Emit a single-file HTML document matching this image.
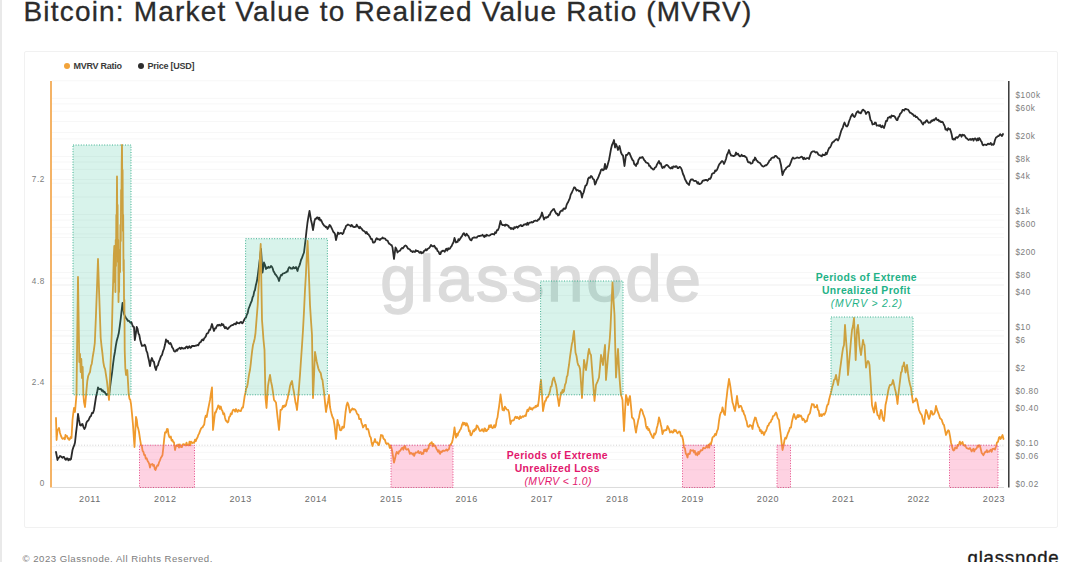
<!DOCTYPE html>
<html lang="en"><head><meta charset="utf-8"><title>Bitcoin: Market Value to Realized Value Ratio (MVRV)</title>
<style>
html,body{margin:0;padding:0;background:#fff;}
body{width:1080px;height:562px;overflow:hidden;position:relative;font-family:"Liberation Sans",sans-serif;}
.edge-l{position:absolute;left:0;top:0;width:1.6px;height:562px;background:#e9e9e9;}
.edge-r{position:absolute;left:1078px;top:0;width:2px;height:562px;background:#f1f1f1;}
h1{position:absolute;left:23.5px;top:-4.4px;margin:0;font-weight:400;font-size:28px;line-height:32px;color:#2b2b2b;white-space:nowrap;letter-spacing:1.18px;-webkit-text-stroke:0.3px #2b2b2b;}
.card{position:absolute;left:24px;top:51px;width:1034px;height:477px;border:1.5px solid #f1f1f1;border-radius:2px;box-sizing:border-box;background:#fff;}
.legend{position:absolute;left:0;top:0;font-size:9px;font-weight:700;color:#3a3a3a;white-space:nowrap;letter-spacing:-0.25px;}
.legend span{position:absolute;top:61px;line-height:10px;}
.legend i{position:absolute;top:63.1px;width:6px;height:6px;border-radius:50%;}
svg{position:absolute;left:0;top:0;}
.foot{position:absolute;left:22.5px;top:552.5px;font-size:9.6px;line-height:12px;color:#7d7d7d;letter-spacing:0.5px;white-space:nowrap;}
.logo{position:absolute;right:20.5px;top:546.5px;font-size:18.6px;line-height:22px;color:#1c1c1c;letter-spacing:0.8px;white-space:nowrap;-webkit-text-stroke:0.35px #1c1c1c;}
</style></head>
<body>
<div class="edge-l"></div>
<h1>Bitcoin: Market Value to Realized Value Ratio (MVRV)</h1>
<div class="card"></div>
<div class="legend"><i style="left:64px;background:#f2a33a"></i><span style="left:73.5px">MVRV Ratio</span><i style="left:138px;background:#2d2d2d"></i><span style="left:147.5px">Price [USD]</span></div>
<svg width="1080" height="562" viewBox="0 0 1080 562" font-family="Liberation Sans, sans-serif">
<g stroke="#f7f7f7" stroke-width="1"><line x1="52" x2="1004" y1="487.3" y2="487.3"/><line x1="52" x2="1004" y1="469.8" y2="469.8"/><line x1="52" x2="1004" y1="459.6" y2="459.6"/><line x1="52" x2="1004" y1="452.3" y2="452.3"/><line x1="52" x2="1004" y1="446.7" y2="446.7"/><line x1="52" x2="1004" y1="429.2" y2="429.2"/><line x1="52" x2="1004" y1="411.8" y2="411.8"/><line x1="52" x2="1004" y1="401.5" y2="401.5"/><line x1="52" x2="1004" y1="394.3" y2="394.3"/><line x1="52" x2="1004" y1="388.7" y2="388.7"/><line x1="52" x2="1004" y1="371.2" y2="371.2"/><line x1="52" x2="1004" y1="353.7" y2="353.7"/><line x1="52" x2="1004" y1="343.5" y2="343.5"/><line x1="52" x2="1004" y1="336.2" y2="336.2"/><line x1="52" x2="1004" y1="330.6" y2="330.6"/><line x1="52" x2="1004" y1="313.1" y2="313.1"/><line x1="52" x2="1004" y1="295.6" y2="295.6"/><line x1="52" x2="1004" y1="285.4" y2="285.4"/><line x1="52" x2="1004" y1="278.1" y2="278.1"/><line x1="52" x2="1004" y1="272.5" y2="272.5"/><line x1="52" x2="1004" y1="255.0" y2="255.0"/><line x1="52" x2="1004" y1="237.5" y2="237.5"/><line x1="52" x2="1004" y1="227.3" y2="227.3"/><line x1="52" x2="1004" y1="220.1" y2="220.1"/><line x1="52" x2="1004" y1="214.4" y2="214.4"/><line x1="52" x2="1004" y1="197.0" y2="197.0"/><line x1="52" x2="1004" y1="179.5" y2="179.5"/><line x1="52" x2="1004" y1="169.3" y2="169.3"/><line x1="52" x2="1004" y1="162.0" y2="162.0"/><line x1="52" x2="1004" y1="156.4" y2="156.4"/><line x1="52" x2="1004" y1="138.9" y2="138.9"/><line x1="52" x2="1004" y1="121.4" y2="121.4"/><line x1="52" x2="1004" y1="111.2" y2="111.2"/><line x1="52" x2="1004" y1="103.9" y2="103.9"/><line x1="52" x2="1004" y1="98.3" y2="98.3"/><line x1="52" x2="1004" y1="80.8" y2="80.8"/><line x1="52" x2="1004" y1="436.8" y2="436.8"/><line x1="52" x2="1004" y1="386.1" y2="386.1"/><line x1="52" x2="1004" y1="335.3" y2="335.3"/><line x1="52" x2="1004" y1="284.6" y2="284.6"/><line x1="52" x2="1004" y1="233.9" y2="233.9"/><line x1="52" x2="1004" y1="183.2" y2="183.2"/><line x1="52" x2="1004" y1="132.4" y2="132.4"/></g>
<line x1="52" x2="1004" y1="487.5" y2="487.5" stroke="#dcdcdc" stroke-width="1"/>
<text x="542" y="301" text-anchor="middle" font-size="65.5" fill="#dbdbdb" stroke="#dbdbdb" stroke-width="1.4" letter-spacing="2.75">glassnode</text>
<line x1="56" x2="1004" y1="445.2" y2="445.2" stroke="#d2d2d2" stroke-width="1" stroke-dasharray="1 1.8"/>
<path d="M56.0,452.0 L57.5,460.0 L58.3,458.0 L59.2,457.4 L60.0,456.0 L60.8,456.2 L61.7,457.3 L62.5,457.8 L63.3,456.9 L64.2,457.2 L65.0,459.0 L65.9,459.9 L66.7,458.4 L67.6,458.3 L68.4,460.3 L69.3,458.9 L70.1,459.9 L71.0,459.0 L72.5,450.0 L73.3,447.4 L74.2,445.4 L75.0,442.5 L76.0,433.2 L77.0,425.0 L78.0,414.0 L79.0,419.9 L80.0,425.0 L80.8,425.6 L81.7,424.4 L82.5,424.0 L83.5,427.1 L84.5,429.0 L85.5,426.8 L86.5,422.5 L87.5,421.0 L88.4,420.4 L89.2,418.7 L90.1,416.7 L91.0,416.0 L92.0,412.8 L93.0,413.0 L94.0,410.0 L95.0,403.5 L96.0,397.0 L97.0,392.8 L98.0,387.5 L99.0,389.0 L100.0,389.1 L101.0,389.0 L101.8,390.8 L102.6,390.1 L103.4,391.9 L104.2,391.7 L105.0,392.5 L105.8,394.3 L106.6,394.9 L107.4,393.6 L108.2,394.4 L109.0,396.0 L110.0,387.6 L111.0,380.0 L112.0,373.1 L113.0,364.6 L114.0,357.0 L114.9,352.0 L115.8,345.8 L116.7,341.0 L117.8,337.0 L118.8,333.0 L119.8,325.8 L120.7,319.0 L121.6,310.8 L122.5,303.0 L124.0,314.0 L125.0,316.2 L126.0,318.0 L126.9,319.1 L127.8,320.9 L128.7,320.7 L129.6,321.6 L130.4,322.7 L131.3,322.0 L132.2,324.6 L133.1,326.6 L134.0,327.0 L134.8,340.0 L135.8,333.8 L136.7,327.0 L137.6,328.8 L138.4,333.3 L139.3,335.0 L140.2,339.9 L141.1,343.4 L142.0,346.0 L142.9,345.7 L143.8,345.7 L144.7,344.7 L145.6,346.6 L146.4,350.9 L147.3,352.7 L148.2,357.3 L149.1,361.0 L150.0,366.0 L150.9,360.9 L151.9,358.0 L152.9,360.9 L154.0,362.0 L155.0,367.3 L156.0,370.0 L156.9,366.3 L157.9,365.4 L158.8,362.0 L159.9,359.4 L160.9,356.4 L162.0,355.0 L163.0,351.3 L164.0,348.7 L165.0,344.8 L166.0,339.5 L166.9,341.6 L167.8,340.6 L168.7,343.0 L169.6,343.9 L170.4,343.0 L171.3,344.7 L172.2,347.4 L173.1,348.5 L174.0,351.0 L174.8,351.6 L175.6,351.4 L176.4,349.8 L177.2,350.7 L178.0,349.0 L178.9,348.5 L179.8,347.8 L180.7,349.1 L181.5,347.6 L182.4,348.0 L183.3,348.7 L184.2,348.2 L185.1,348.4 L186.0,347.0 L186.9,346.4 L187.8,348.2 L188.7,347.0 L189.5,346.3 L190.3,347.8 L191.1,347.5 L191.9,346.0 L192.7,346.0 L193.5,346.0 L194.3,346.1 L195.1,345.8 L195.9,345.5 L196.7,345.5 L197.5,345.0 L198.3,345.3 L199.2,343.4 L200.0,342.3 L200.8,342.2 L201.7,340.2 L202.5,339.5 L203.3,340.4 L204.2,338.4 L205.0,337.5 L205.8,336.4 L206.7,333.7 L207.5,333.5 L208.3,332.7 L209.2,330.0 L210.0,330.0 L211.0,327.3 L212.0,324.0 L213.0,327.8 L214.0,331.0 L214.9,328.4 L215.8,328.3 L216.6,326.4 L217.5,325.0 L218.3,325.5 L219.2,324.6 L220.0,325.5 L220.8,325.6 L221.7,323.8 L222.5,325.0 L223.3,324.5 L224.2,326.8 L225.0,328.2 L225.8,327.0 L226.7,328.2 L227.5,329.0 L228.3,328.6 L229.2,327.2 L230.0,326.6 L230.8,325.8 L231.7,325.3 L232.5,325.0 L233.3,324.9 L234.2,323.8 L235.0,323.7 L235.8,324.4 L236.7,322.1 L237.5,323.0 L238.4,323.1 L239.3,323.4 L240.2,322.3 L241.2,321.9 L242.1,323.4 L243.0,322.5 L244.0,320.2 L245.0,318.4 L246.0,317.5 L246.8,314.8 L247.7,313.0 L248.5,309.0 L249.3,307.0 L250.2,304.6 L251.0,302.5 L251.8,300.9 L252.6,297.3 L253.4,295.9 L254.2,291.6 L255.0,290.0 L255.8,285.4 L256.7,282.1 L257.5,277.5 L258.3,271.4 L259.2,264.1 L260.0,257.5 L261.0,249.0 L262.5,272.5 L264.0,262.5 L265.0,265.0 L266.0,269.0 L266.8,267.5 L267.7,268.1 L268.5,266.7 L269.3,267.8 L270.2,267.4 L271.0,266.0 L271.8,266.7 L272.7,268.4 L273.5,271.3 L274.3,272.4 L275.2,274.3 L276.0,275.0 L277.0,276.6 L278.0,278.0 L279.0,281.0 L280.0,277.5 L281.0,275.0 L281.8,275.3 L282.7,273.6 L283.5,273.4 L284.3,273.1 L285.2,272.7 L286.0,272.5 L286.8,271.3 L287.6,271.6 L288.4,268.6 L289.2,267.2 L290.0,267.5 L290.9,268.6 L291.7,268.3 L292.6,268.6 L293.4,267.0 L294.3,268.3 L295.1,268.2 L296.0,267.0 L297.5,271.0 L298.4,267.5 L299.2,266.1 L300.1,263.6 L301.0,260.0 L302.0,257.9 L303.0,255.0 L304.0,252.5 L305.5,240.0 L306.5,230.9 L307.5,222.5 L308.5,216.3 L309.5,211.0 L311.0,220.0 L312.0,224.3 L313.0,230.0 L314.5,221.0 L315.3,218.7 L316.2,218.9 L317.0,217.5 L317.8,217.4 L318.6,219.3 L319.4,217.8 L320.2,220.5 L321.0,220.0 L321.8,221.7 L322.6,223.5 L323.4,224.6 L324.2,225.8 L325.0,226.0 L325.8,227.2 L326.7,226.7 L327.5,229.0 L328.5,227.6 L329.5,225.0 L330.5,225.8 L331.5,227.8 L332.5,230.0 L333.3,231.8 L334.2,232.7 L335.0,234.0 L336.0,240.0 L337.0,236.0 L338.0,232.5 L338.9,233.9 L339.8,233.4 L340.7,233.0 L341.6,233.1 L342.5,234.0 L343.4,232.9 L344.2,229.9 L345.1,228.7 L346.0,226.0 L347.0,225.3 L348.0,224.5 L349.0,225.0 L349.9,225.3 L350.8,226.3 L351.6,224.9 L352.5,226.0 L353.3,226.8 L354.2,227.1 L355.0,226.8 L355.8,226.8 L356.7,224.7 L357.5,226.0 L358.3,227.0 L359.2,228.3 L360.0,226.8 L360.8,228.1 L361.7,228.7 L362.5,230.0 L363.3,230.7 L364.2,231.1 L365.0,231.9 L365.8,233.4 L366.7,232.0 L367.5,234.0 L368.4,234.1 L369.2,235.5 L370.1,236.8 L371.0,239.0 L372.0,239.0 L373.0,242.6 L374.0,242.5 L375.0,241.7 L376.0,239.0 L376.8,238.1 L377.6,239.4 L378.4,239.1 L379.2,239.3 L380.0,240.0 L380.8,238.8 L381.7,238.7 L382.5,237.5 L383.4,238.4 L384.2,238.4 L385.1,238.6 L386.0,240.0 L386.8,240.4 L387.6,240.6 L388.4,242.5 L389.2,243.8 L390.0,244.0 L390.8,244.9 L391.7,245.2 L392.5,247.5 L394.0,259.0 L395.5,247.5 L396.5,249.2 L397.5,252.5 L398.4,251.3 L399.2,251.0 L400.1,250.6 L401.0,249.0 L401.9,248.0 L402.8,248.4 L403.7,247.2 L404.6,246.0 L405.5,245.5 L406.4,246.0 L407.2,247.2 L408.1,248.7 L409.0,249.0 L409.9,249.5 L410.8,251.0 L411.6,251.1 L412.5,252.0 L413.3,251.2 L414.2,251.8 L415.0,252.0 L415.8,250.2 L416.7,251.0 L417.5,251.0 L418.3,251.1 L419.2,252.5 L420.0,252.9 L420.8,251.7 L421.7,253.3 L422.5,252.5 L423.3,252.7 L424.2,250.7 L425.0,250.7 L425.8,249.2 L426.7,250.4 L427.5,249.0 L428.4,248.4 L429.2,248.0 L430.1,246.8 L431.0,245.0 L431.8,245.8 L432.6,246.4 L433.4,246.4 L434.2,245.6 L435.0,247.0 L435.8,248.6 L436.7,248.4 L437.5,251.0 L438.5,251.6 L439.5,254.0 L440.4,254.1 L441.3,251.6 L442.2,251.1 L443.1,250.6 L444.0,251.0 L444.8,251.7 L445.7,249.5 L446.5,248.8 L447.3,250.6 L448.2,248.3 L449.0,249.0 L449.9,248.6 L450.8,247.0 L451.6,246.1 L452.5,244.0 L453.5,242.2 L454.5,238.0 L456.0,242.5 L456.8,242.0 L457.6,241.9 L458.4,239.2 L459.2,240.4 L460.0,239.0 L461.0,237.4 L462.0,236.2 L463.0,234.0 L463.9,233.2 L464.8,235.0 L465.7,235.7 L466.6,233.7 L467.5,235.0 L468.5,236.2 L469.5,238.5 L470.5,240.0 L471.4,240.4 L472.3,238.3 L473.2,237.7 L474.1,237.3 L475.0,237.5 L475.8,237.6 L476.7,237.7 L477.5,236.5 L478.3,236.2 L479.2,236.0 L480.0,236.0 L480.8,235.6 L481.7,235.7 L482.5,234.7 L483.3,235.8 L484.2,237.0 L485.0,235.4 L485.8,236.3 L486.7,234.7 L487.5,235.5 L488.3,235.7 L489.2,235.7 L490.0,235.2 L490.8,234.5 L491.7,234.2 L492.5,234.0 L493.4,234.1 L494.2,234.5 L495.1,232.3 L496.0,233.0 L497.0,230.1 L498.0,230.0 L499.0,227.5 L500.5,221.0 L501.5,224.1 L502.5,225.0 L503.3,225.1 L504.2,225.0 L505.0,225.8 L505.8,224.5 L506.7,224.8 L507.5,225.5 L508.4,225.6 L509.2,227.5 L510.1,227.6 L511.0,229.0 L511.8,228.0 L512.7,228.8 L513.5,229.2 L514.3,227.1 L515.2,227.9 L516.0,227.0 L516.8,226.6 L517.6,227.7 L518.4,226.8 L519.2,225.9 L520.1,225.6 L520.9,225.0 L521.7,226.1 L522.5,226.0 L523.3,225.3 L524.1,224.4 L524.9,224.5 L525.8,224.0 L526.6,224.8 L527.4,222.8 L528.2,224.7 L529.0,223.0 L529.8,222.6 L530.7,222.6 L531.5,221.9 L532.3,222.5 L533.2,222.2 L534.0,221.0 L534.8,220.9 L535.7,220.5 L536.5,220.8 L537.3,220.9 L538.2,219.5 L539.0,219.5 L540.0,217.8 L541.0,216.0 L542.0,212.5 L543.0,215.9 L544.0,219.5 L544.8,218.0 L545.7,217.3 L546.5,217.8 L547.3,217.0 L548.2,216.9 L549.0,215.0 L549.8,214.9 L550.7,212.3 L551.5,211.2 L552.3,210.4 L553.2,209.2 L554.0,209.0 L554.8,210.8 L555.6,212.5 L556.4,213.9 L557.2,213.6 L558.0,215.5 L559.0,214.9 L560.0,212.0 L561.0,211.0 L561.8,210.4 L562.6,210.8 L563.4,208.7 L564.2,208.3 L565.0,209.0 L565.8,208.1 L566.6,204.9 L567.4,203.2 L568.2,202.0 L569.0,200.0 L569.8,198.4 L570.7,194.6 L571.5,193.3 L572.3,191.5 L573.2,189.5 L574.0,187.5 L574.9,187.4 L575.8,189.0 L576.6,190.6 L577.5,190.0 L578.4,190.3 L579.2,191.4 L580.1,190.9 L581.0,192.5 L582.0,197.5 L582.8,194.1 L583.7,192.3 L584.5,189.0 L585.4,185.7 L586.3,185.4 L587.2,183.2 L588.1,178.8 L589.0,177.5 L590.0,177.9 L591.0,176.0 L592.0,176.8 L593.0,179.0 L594.0,179.5 L595.0,184.5 L595.8,183.3 L596.7,180.3 L597.5,179.0 L598.4,177.2 L599.2,174.9 L600.1,173.0 L601.0,170.0 L602.0,169.2 L603.0,170.3 L604.0,169.5 L605.0,164.0 L606.0,169.0 L607.0,167.2 L608.0,163.4 L609.0,160.0 L610.0,154.6 L611.0,149.0 L612.0,145.0 L613.0,143.0 L614.0,140.0 L615.0,147.5 L616.0,144.0 L617.0,146.6 L618.0,150.0 L619.5,146.0 L621.0,152.5 L622.0,154.6 L623.0,155.5 L624.5,166.0 L626.0,155.0 L626.9,155.0 L627.8,154.2 L628.6,152.7 L629.5,153.0 L630.5,155.7 L631.5,158.0 L632.5,160.0 L633.4,160.7 L634.2,164.0 L635.1,164.9 L636.0,166.0 L636.8,163.3 L637.6,163.7 L638.4,160.0 L639.2,158.8 L640.0,157.5 L640.8,157.9 L641.7,157.4 L642.5,157.0 L643.4,158.5 L644.2,160.1 L645.1,161.0 L646.0,162.5 L646.8,162.7 L647.6,163.1 L648.4,163.5 L649.2,165.9 L650.0,166.0 L651.0,167.8 L652.0,168.4 L653.0,169.5 L654.0,169.3 L655.0,167.5 L656.0,167.0 L657.0,164.4 L658.0,162.7 L659.0,161.0 L659.9,163.7 L660.8,163.3 L661.6,166.3 L662.5,168.0 L663.4,166.7 L664.3,167.5 L665.2,165.8 L666.1,165.2 L667.0,165.0 L668.0,165.7 L669.0,167.1 L670.0,168.0 L670.8,168.5 L671.7,167.3 L672.5,168.4 L673.3,166.3 L674.2,166.6 L675.0,167.0 L675.9,166.1 L676.7,166.3 L677.6,168.2 L678.4,168.2 L679.3,166.9 L680.1,167.0 L681.0,168.0 L682.0,170.4 L683.0,174.0 L684.0,176.0 L685.0,179.3 L686.0,181.0 L687.0,183.0 L688.0,183.9 L689.0,185.0 L690.0,181.3 L691.0,179.5 L691.8,179.5 L692.6,179.3 L693.4,180.5 L694.2,180.9 L695.0,181.0 L695.8,180.8 L696.6,181.6 L697.4,183.5 L698.2,182.2 L699.0,184.0 L699.9,184.0 L700.8,183.5 L701.6,182.9 L702.5,181.0 L703.3,180.4 L704.2,180.5 L705.0,180.0 L705.8,180.0 L706.7,180.0 L707.5,180.7 L708.3,179.8 L709.2,178.6 L710.0,179.0 L711.0,177.4 L712.0,174.0 L712.8,173.4 L713.6,173.1 L714.4,172.8 L715.2,170.3 L716.0,171.0 L716.9,170.0 L717.8,167.9 L718.6,165.7 L719.5,164.0 L720.3,163.1 L721.2,161.9 L722.0,161.0 L723.0,161.7 L724.0,164.0 L725.0,161.6 L726.0,159.0 L727.0,154.8 L728.0,153.0 L729.0,150.0 L730.0,153.1 L731.0,155.5 L732.0,155.5 L733.0,156.0 L734.0,156.0 L735.0,155.4 L736.0,152.5 L737.0,154.5 L738.0,153.6 L739.0,155.5 L739.9,156.4 L740.8,156.1 L741.6,154.7 L742.5,156.0 L743.5,156.0 L744.5,156.0 L745.5,157.0 L746.4,157.3 L747.2,159.9 L748.1,162.2 L749.0,162.5 L749.9,162.2 L750.8,163.7 L751.6,163.4 L752.5,163.0 L753.3,160.2 L754.2,160.3 L755.0,157.5 L755.8,158.8 L756.6,160.6 L757.4,161.1 L758.2,162.1 L759.0,162.5 L760.0,163.1 L761.0,164.5 L761.9,165.7 L762.8,166.4 L763.6,166.6 L764.5,166.0 L765.5,165.2 L766.5,165.3 L767.5,164.0 L768.5,162.6 L769.5,160.3 L770.5,160.0 L771.4,158.2 L772.2,157.7 L773.1,157.3 L774.0,157.5 L775.0,155.9 L776.0,156.0 L776.9,156.7 L777.8,158.0 L778.6,158.3 L779.5,159.0 L781.0,165.0 L782.5,175.0 L783.5,172.3 L784.5,170.0 L785.5,169.4 L786.5,167.5 L787.5,167.0 L788.3,166.1 L789.2,166.0 L790.0,164.5 L791.0,161.9 L792.0,159.0 L793.0,157.5 L794.0,158.7 L795.0,158.4 L796.0,158.0 L796.8,157.6 L797.6,157.5 L798.4,157.8 L799.2,157.9 L800.0,157.5 L800.8,157.0 L801.7,156.7 L802.5,157.5 L803.3,159.2 L804.2,157.8 L805.0,159.0 L805.8,158.9 L806.6,158.2 L807.4,158.2 L808.2,158.1 L809.0,159.0 L810.0,155.7 L811.0,153.0 L811.8,151.9 L812.6,151.4 L813.4,151.4 L814.2,151.3 L815.0,152.0 L815.8,152.6 L816.6,152.1 L817.4,152.6 L818.2,154.3 L819.0,155.0 L820.0,155.3 L821.0,156.0 L821.8,156.3 L822.6,154.4 L823.4,155.1 L824.2,154.9 L825.0,155.0 L825.8,152.8 L826.7,154.2 L827.5,152.0 L828.3,149.8 L829.2,147.9 L830.0,147.5 L831.0,145.6 L832.0,143.0 L833.0,142.0 L833.8,141.7 L834.7,140.3 L835.5,140.0 L836.3,139.2 L837.2,139.2 L838.0,140.5 L839.0,138.3 L840.0,135.0 L841.0,131.4 L842.0,129.0 L842.8,127.6 L843.7,124.6 L844.5,122.5 L846.0,126.0 L847.0,126.6 L848.0,125.0 L849.0,121.5 L850.0,119.0 L850.8,116.7 L851.7,115.1 L852.5,114.0 L853.5,116.3 L854.5,117.0 L855.3,115.7 L856.2,113.3 L857.0,112.0 L858.0,111.1 L859.0,112.8 L860.0,112.5 L860.8,113.3 L861.6,111.9 L862.4,110.0 L863.2,109.7 L864.0,110.5 L865.0,111.2 L866.0,114.0 L867.0,112.6 L868.0,111.8 L869.0,112.5 L870.5,120.0 L871.5,121.1 L872.5,124.5 L873.3,124.2 L874.2,124.2 L875.0,122.5 L875.8,122.7 L876.7,125.7 L877.5,125.5 L878.3,125.3 L879.2,126.0 L880.0,125.0 L880.8,126.7 L881.6,127.3 L882.4,125.6 L883.2,126.9 L884.0,128.0 L885.0,124.8 L886.0,121.0 L887.0,121.0 L888.0,117.6 L889.0,117.5 L889.9,116.6 L890.8,117.7 L891.6,115.4 L892.5,116.0 L893.3,116.0 L894.2,116.2 L895.0,117.0 L895.8,118.5 L896.7,120.1 L897.5,120.0 L898.3,117.2 L899.2,116.6 L900.0,114.0 L900.8,113.3 L901.7,112.2 L902.5,110.0 L903.4,109.9 L904.2,110.6 L905.1,108.9 L906.0,109.0 L907.0,109.4 L908.0,109.6 L909.0,111.0 L910.0,112.7 L911.0,113.0 L912.0,113.9 L913.0,114.4 L914.0,116.0 L915.0,115.5 L916.0,117.2 L917.0,117.0 L918.0,118.3 L919.0,119.5 L920.0,120.0 L921.0,121.2 L922.0,123.0 L923.0,124.5 L924.0,122.4 L925.0,122.7 L926.0,121.0 L926.9,120.1 L927.8,121.7 L928.6,122.8 L929.5,122.5 L930.5,122.5 L931.5,120.5 L932.5,121.0 L933.4,119.6 L934.2,120.4 L935.1,119.1 L936.0,118.0 L936.8,119.6 L937.6,120.2 L938.4,119.7 L939.2,121.4 L940.0,121.0 L941.0,122.1 L942.0,121.6 L943.0,122.5 L943.8,124.5 L944.7,126.1 L945.5,129.5 L946.4,129.1 L947.3,130.5 L948.2,128.2 L949.1,129.3 L950.0,129.0 L950.8,131.3 L951.7,134.6 L952.5,139.0 L953.3,139.6 L954.2,138.7 L955.0,139.5 L955.8,137.6 L956.6,137.2 L957.4,137.8 L958.2,136.9 L959.0,136.0 L959.8,134.6 L960.7,135.0 L961.5,136.7 L962.3,134.6 L963.2,135.3 L964.0,135.0 L964.9,135.8 L965.8,137.7 L966.6,138.3 L967.5,139.0 L968.4,140.0 L969.2,139.6 L970.1,138.9 L971.0,140.0 L971.8,139.1 L972.7,138.7 L973.5,140.6 L974.3,138.7 L975.2,138.3 L976.0,139.5 L976.8,140.6 L977.6,138.5 L978.4,140.2 L979.2,138.0 L980.0,139.0 L980.8,140.7 L981.7,141.9 L982.5,144.5 L983.3,145.3 L984.2,144.6 L985.0,144.6 L985.8,144.8 L986.7,145.0 L987.5,144.0 L988.3,143.6 L989.1,144.3 L989.9,143.9 L990.8,143.0 L991.6,144.9 L992.4,144.2 L993.2,144.8 L994.0,144.0 L995.0,140.0 L996.0,137.5 L996.9,137.0 L997.8,136.2 L998.6,136.2 L999.5,135.0 L1000.3,134.2 L1001.2,135.3 L1002.0,136.0 L1003.0,134.0" fill="none" stroke="#2a2a2a" stroke-width="1.8" stroke-linejoin="round" stroke-linecap="round"/>
<path d="M56.0,418.0 L56.6,440.0 L57.5,430.0 L58.2,429.5 L59.0,428.0 L60.0,433.0 L61.0,436.0 L61.8,437.7 L62.5,438.9 L63.2,438.5 L64.0,438.0 L64.8,439.3 L65.5,435.0 L66.2,436.4 L67.0,436.0 L67.8,438.6 L68.5,438.1 L69.2,439.9 L70.0,439.0 L70.8,436.9 L71.5,438.0 L72.5,420.0 L73.2,413.9 L74.0,408.0 L75.0,412.0 L75.8,402.9 L76.5,395.0 L77.3,330.0 L78.0,277.0 L78.8,330.0 L79.3,362.0 L80.0,354.0 L80.7,372.0 L81.3,359.0 L82.0,378.0 L82.7,367.0 L83.3,394.0 L84.0,402.0 L85.0,407.0 L85.8,398.4 L86.5,389.9 L87.3,381.0 L88.2,376.0 L89.1,373.8 L90.0,372.0 L90.9,366.1 L91.8,363.7 L92.7,357.0 L93.8,350.7 L94.8,343.0 L95.9,317.0 L97.0,287.1 L98.0,259.0 L99.3,298.0 L100.7,338.0 L101.6,346.7 L102.4,353.1 L103.3,362.0 L104.2,366.8 L105.1,369.1 L106.0,375.0 L107.0,381.7 L108.0,391.0 L109.0,400.0 L110.0,378.0 L111.0,352.0 L111.9,330.0 L112.6,300.0 L113.2,280.0 L113.8,256.0 L114.3,246.0 L114.7,282.0 L115.0,258.0 L115.4,292.0 L115.7,240.0 L116.0,266.0 L116.3,215.0 L116.6,236.0 L117.0,176.5 L117.3,226.0 L117.6,205.0 L117.9,262.0 L118.2,240.0 L118.5,302.0 L118.8,275.0 L119.1,292.0 L119.4,262.0 L119.8,250.0 L120.1,272.0 L120.4,225.0 L120.8,241.0 L121.1,190.0 L121.4,206.0 L121.7,165.0 L122.0,145.0 L122.3,186.0 L122.6,170.0 L122.9,231.0 L123.2,215.0 L123.5,271.0 L123.8,260.0 L124.1,311.0 L124.4,300.0 L124.7,350.0 L125.3,368.0 L126.0,375.0 L127.3,370.0 L128.7,394.0 L129.5,398.9 L130.2,399.4 L131.0,404.0 L132.0,413.8 L133.0,425.0 L133.8,437.2 L134.5,447.0 L135.2,432.9 L136.0,417.0 L136.8,419.9 L137.5,426.4 L138.2,428.4 L139.0,432.0 L140.0,438.9 L141.0,445.0 L141.8,445.8 L142.6,450.9 L143.4,451.8 L144.2,455.0 L145.0,455.0 L145.8,458.7 L146.7,458.3 L147.5,460.7 L148.3,461.9 L149.2,463.9 L150.0,467.5 L150.8,464.5 L151.7,464.3 L152.5,464.0 L153.2,465.9 L154.0,464.9 L154.8,469.2 L155.5,470.0 L156.4,467.4 L157.2,465.5 L158.1,465.7 L159.0,462.5 L159.9,460.5 L160.8,458.0 L161.6,456.8 L162.5,455.0 L163.3,448.0 L164.2,438.9 L165.0,432.5 L166.0,432.7 L167.0,429.0 L167.8,429.1 L168.5,434.3 L169.2,436.8 L170.0,437.5 L170.8,436.5 L171.6,440.7 L172.4,439.9 L173.2,441.8 L174.0,442.5 L175.0,450.0 L175.8,446.6 L176.7,445.4 L177.5,446.0 L178.2,444.5 L179.0,447.6 L179.8,444.3 L180.5,446.5 L181.2,447.1 L182.0,447.0 L182.8,444.3 L183.5,444.2 L184.2,444.8 L185.0,444.5 L185.8,445.5 L186.5,442.6 L187.2,445.1 L188.0,445.1 L188.8,445.3 L189.5,441.7 L190.2,445.3 L191.0,441.6 L191.8,442.5 L192.5,443.0 L193.3,442.5 L194.2,442.9 L195.0,439.6 L195.8,441.1 L196.7,438.6 L197.5,437.5 L198.3,435.0 L199.2,433.4 L200.0,431.1 L200.8,429.1 L201.7,427.7 L202.5,427.5 L203.3,425.8 L204.2,424.6 L205.0,418.6 L205.8,415.6 L206.7,417.0 L207.5,412.5 L208.3,408.5 L209.2,403.8 L210.0,400.0 L211.0,393.1 L212.0,387.5 L213.0,430.0 L214.0,421.5 L215.0,412.5 L215.8,412.6 L216.6,409.7 L217.4,408.3 L218.2,405.4 L219.0,406.0 L219.9,409.0 L220.8,406.5 L221.6,409.7 L222.5,411.0 L223.3,414.3 L224.2,413.3 L225.0,417.7 L225.8,420.6 L226.7,421.1 L227.5,422.5 L228.3,421.8 L229.2,417.0 L230.0,416.5 L230.8,413.4 L231.7,414.4 L232.5,411.0 L233.4,409.6 L234.2,409.8 L235.1,411.6 L236.0,409.0 L236.8,410.9 L237.6,411.8 L238.4,410.0 L239.2,410.6 L240.0,411.0 L240.8,411.1 L241.5,409.2 L242.2,407.5 L243.0,407.5 L243.8,402.1 L244.7,396.0 L245.5,392.5 L246.2,388.2 L247.0,387.1 L247.8,383.2 L248.5,378.0 L249.2,373.7 L250.0,370.0 L250.8,363.3 L251.5,356.5 L252.2,350.7 L253.0,345.0 L253.8,342.2 L254.7,338.5 L255.5,333.0 L256.6,318.7 L257.7,305.0 L258.4,290.5 L259.2,275.2 L259.9,259.7 L260.7,244.0 L262.0,320.0 L262.8,330.4 L263.5,340.0 L264.5,350.0 L265.5,398.0 L266.5,408.0 L267.2,397.7 L268.0,386.0 L269.0,379.9 L270.0,375.0 L271.0,381.4 L272.0,386.0 L273.0,392.4 L274.0,400.0 L275.0,401.2 L276.0,402.5 L276.8,410.1 L277.5,416.7 L278.2,422.6 L279.0,430.0 L279.8,421.1 L280.5,410.0 L281.3,409.9 L282.1,408.9 L282.9,405.8 L283.6,407.3 L284.4,405.4 L285.2,406.4 L286.0,405.0 L286.8,401.0 L287.6,398.7 L288.4,394.2 L289.2,391.1 L290.0,386.0 L291.0,382.9 L292.0,381.0 L293.0,387.4 L294.0,392.5 L294.8,397.9 L295.5,402.6 L296.2,405.0 L297.0,410.0 L298.0,399.6 L299.0,387.5 L300.0,374.7 L301.0,360.0 L302.0,345.5 L303.0,330.0 L304.0,311.2 L305.0,290.0 L305.9,274.8 L306.7,257.4 L307.6,241.0 L308.4,262.4 L309.2,282.8 L310.0,305.0 L311.0,320.8 L312.0,335.0 L313.0,398.0 L314.0,376.1 L315.0,352.0 L315.8,356.2 L316.7,361.5 L317.5,365.0 L318.3,368.3 L319.2,370.6 L320.0,372.0 L320.8,373.3 L321.7,378.5 L322.5,380.0 L323.2,386.2 L324.0,392.0 L325.0,402.4 L326.0,412.0 L326.8,407.4 L327.5,404.0 L328.2,400.4 L329.0,395.0 L330.0,407.0 L330.8,410.9 L331.7,414.6 L332.5,417.0 L333.5,419.0 L334.5,425.0 L335.2,431.1 L336.0,439.0 L336.8,429.4 L337.5,420.0 L338.3,424.0 L339.2,425.5 L340.0,430.0 L340.8,430.3 L341.6,429.5 L342.4,426.6 L343.2,427.9 L344.0,427.5 L344.8,419.3 L345.5,412.5 L346.5,405.6 L347.5,402.5 L348.3,404.3 L349.2,408.4 L350.0,412.5 L350.8,410.5 L351.6,409.8 L352.4,408.4 L353.2,409.6 L354.0,409.0 L355.0,409.5 L356.0,411.0 L356.8,413.1 L357.6,414.6 L358.4,414.7 L359.2,419.1 L360.0,419.0 L360.8,419.0 L361.5,422.9 L362.2,424.4 L363.0,427.5 L364.0,425.9 L365.0,425.0 L365.8,424.9 L366.6,429.4 L367.4,429.0 L368.2,429.1 L369.0,432.5 L369.9,436.4 L370.8,437.5 L371.6,442.8 L372.5,446.0 L373.3,443.0 L374.2,441.7 L375.0,439.0 L375.8,442.1 L376.6,442.7 L377.4,442.3 L378.2,445.1 L379.0,445.0 L380.0,440.6 L381.0,435.0 L381.8,435.5 L382.6,435.5 L383.4,438.4 L384.2,439.3 L385.0,440.0 L385.8,442.9 L386.6,444.0 L387.4,443.5 L388.2,443.4 L389.0,445.0 L389.8,447.9 L390.5,445.4 L391.2,447.1 L392.0,450.0 L393.0,456.4 L394.0,462.5 L395.0,458.7 L396.0,454.0 L396.8,451.9 L397.6,453.3 L398.4,453.8 L399.2,451.1 L400.0,451.0 L400.8,449.9 L401.7,448.2 L402.5,447.6 L403.3,449.7 L404.2,446.3 L405.0,446.0 L405.8,448.9 L406.6,449.7 L407.4,449.4 L408.2,449.0 L409.0,451.0 L409.9,453.9 L410.8,452.7 L411.6,453.3 L412.5,454.5 L413.3,453.4 L414.2,455.9 L415.0,453.5 L415.8,452.3 L416.7,452.7 L417.5,452.5 L418.3,451.0 L419.2,453.2 L420.0,452.5 L420.8,452.0 L421.7,454.1 L422.5,453.0 L423.3,453.7 L424.2,449.6 L425.0,451.1 L425.8,449.4 L426.7,451.5 L427.5,449.0 L428.4,448.7 L429.2,444.9 L430.1,443.5 L431.0,443.0 L431.8,442.2 L432.6,446.3 L433.4,443.9 L434.2,445.9 L435.0,446.0 L435.8,447.1 L436.5,448.9 L437.2,449.9 L438.0,451.7 L438.8,450.2 L439.5,453.0 L440.2,453.8 L441.0,451.5 L441.8,452.1 L442.5,451.0 L443.2,450.5 L444.0,451.0 L444.8,450.8 L445.7,450.2 L446.5,449.4 L447.3,450.7 L448.2,449.7 L449.0,449.0 L449.8,445.4 L450.5,444.7 L451.2,443.9 L452.0,442.5 L452.8,439.2 L453.7,434.1 L454.5,427.5 L455.2,432.6 L456.0,437.5 L456.8,434.0 L457.6,435.7 L458.4,432.7 L459.2,431.8 L460.0,430.0 L460.8,429.0 L461.5,426.8 L462.2,424.3 L463.0,422.5 L463.8,424.6 L464.5,422.9 L465.2,423.3 L466.0,425.6 L466.8,423.3 L467.5,425.0 L468.2,426.6 L469.0,431.4 L469.8,430.7 L470.5,435.0 L471.2,435.4 L472.0,433.8 L472.8,431.7 L473.5,430.1 L474.2,431.2 L475.0,429.0 L475.8,429.7 L476.7,425.5 L477.5,426.0 L478.3,427.6 L479.2,429.5 L480.0,431.0 L480.8,430.8 L481.5,430.0 L482.2,429.1 L483.0,430.8 L483.8,431.6 L484.5,428.3 L485.2,428.8 L486.0,431.1 L486.8,430.9 L487.5,429.5 L488.4,429.1 L489.2,425.3 L490.1,427.1 L491.0,425.0 L491.8,427.5 L492.6,428.1 L493.4,427.3 L494.2,425.1 L495.0,427.5 L495.8,425.6 L496.7,419.7 L497.5,417.5 L498.2,412.1 L499.0,407.1 L499.8,400.8 L500.5,394.5 L501.5,401.3 L502.5,410.0 L503.2,408.5 L504.0,410.5 L504.8,406.7 L505.5,407.5 L506.4,409.2 L507.2,409.6 L508.1,409.8 L509.0,412.5 L509.8,418.6 L510.5,424.0 L511.4,421.1 L512.2,420.4 L513.1,420.5 L514.0,420.0 L514.9,417.5 L515.8,416.6 L516.6,418.1 L517.5,417.0 L518.4,418.3 L519.2,419.1 L520.1,416.2 L521.0,418.0 L521.8,417.2 L522.6,416.2 L523.4,416.9 L524.2,416.0 L525.0,415.5 L525.8,416.0 L526.6,412.4 L527.4,409.7 L528.2,411.1 L529.0,409.0 L529.8,407.3 L530.7,409.1 L531.5,408.3 L532.3,409.7 L533.2,408.0 L534.0,407.5 L534.8,407.7 L535.6,405.9 L536.4,406.8 L537.2,405.3 L538.0,406.0 L538.8,400.1 L539.5,393.0 L540.2,385.6 L541.0,380.0 L542.0,394.8 L543.0,411.0 L544.0,405.5 L545.0,401.0 L545.8,400.8 L546.7,397.3 L547.5,397.5 L548.3,396.2 L549.2,393.8 L550.0,391.0 L550.8,386.6 L551.6,386.3 L552.4,381.2 L553.2,378.6 L554.0,377.5 L555.0,381.6 L556.0,385.0 L556.8,389.6 L557.5,396.4 L558.2,400.7 L559.0,406.0 L560.0,398.8 L561.0,392.5 L561.8,393.4 L562.5,389.8 L563.2,392.3 L564.0,391.0 L565.0,384.9 L566.0,382.5 L566.8,376.7 L567.5,375.6 L568.2,370.1 L569.0,365.0 L570.0,356.8 L571.0,350.0 L571.8,344.3 L572.5,341.7 L573.2,336.2 L574.0,331.0 L574.8,342.6 L575.5,352.5 L576.5,356.0 L577.5,362.5 L578.3,365.2 L579.2,366.2 L580.0,369.0 L581.0,382.8 L582.0,398.0 L583.0,378.6 L584.0,360.0 L585.0,365.5 L586.0,370.0 L586.8,364.4 L587.5,359.2 L588.2,353.3 L589.0,349.0 L590.0,353.4 L591.0,355.0 L591.9,366.9 L592.8,378.8 L593.6,389.3 L594.5,401.0 L595.2,393.9 L596.0,385.0 L596.8,383.2 L597.5,381.6 L598.2,379.7 L599.0,377.5 L600.0,366.9 L601.0,355.0 L602.0,359.6 L603.0,365.0 L604.0,354.0 L605.0,345.0 L606.0,380.0 L606.8,370.7 L607.5,363.0 L608.2,354.5 L609.0,347.5 L609.8,338.5 L610.5,327.5 L611.5,305.0 L612.5,282.5 L613.5,299.4 L614.5,315.0 L615.2,345.0 L616.0,377.5 L617.0,363.2 L618.0,349.0 L618.8,364.2 L619.5,377.5 L620.2,386.6 L621.0,395.0 L621.8,397.2 L622.5,400.0 L623.2,415.4 L624.0,431.0 L625.0,412.0 L626.0,395.0 L627.0,398.5 L628.0,405.0 L629.0,399.1 L630.0,396.0 L631.0,406.4 L632.0,417.5 L633.0,418.3 L634.0,420.0 L635.0,427.2 L636.0,432.5 L636.8,427.3 L637.5,424.0 L638.2,420.3 L639.0,417.5 L640.0,411.8 L641.0,409.0 L641.8,409.9 L642.5,411.4 L643.2,414.2 L644.0,416.0 L645.0,419.0 L646.0,426.0 L646.8,428.5 L647.5,426.9 L648.2,430.1 L649.0,429.0 L649.9,431.9 L650.8,434.0 L651.6,435.3 L652.5,437.5 L653.4,438.1 L654.2,433.4 L655.1,434.5 L656.0,432.5 L656.8,427.9 L657.5,425.7 L658.2,422.2 L659.0,417.5 L659.9,420.2 L660.8,424.5 L661.6,427.9 L662.5,434.0 L663.2,431.9 L664.0,430.2 L664.8,430.6 L665.5,430.0 L666.5,430.0 L667.5,426.0 L668.3,427.6 L669.2,429.5 L670.0,432.5 L670.8,432.1 L671.7,431.1 L672.5,432.7 L673.3,432.4 L674.2,429.8 L675.0,431.0 L675.8,430.1 L676.7,432.1 L677.5,433.4 L678.3,432.3 L679.2,431.5 L680.0,432.0 L681.0,436.0 L682.0,436.0 L683.0,439.7 L684.0,447.5 L684.9,448.2 L685.8,453.7 L686.6,454.6 L687.5,457.5 L688.2,453.7 L689.0,454.0 L689.8,453.9 L690.5,450.0 L691.4,450.7 L692.2,450.6 L693.1,450.2 L694.0,452.5 L694.8,450.9 L695.7,454.7 L696.5,453.2 L697.3,455.3 L698.2,451.9 L699.0,454.0 L699.9,451.9 L700.8,450.1 L701.6,450.6 L702.5,450.0 L703.3,447.7 L704.2,448.1 L705.0,448.4 L705.8,447.5 L706.7,446.0 L707.5,447.5 L708.4,444.7 L709.2,447.7 L710.1,443.5 L711.0,444.0 L711.8,440.8 L712.5,437.5 L713.4,436.5 L714.2,436.4 L715.1,433.9 L716.0,435.0 L717.0,431.2 L718.0,429.0 L719.0,421.0 L720.0,415.0 L720.8,412.7 L721.7,411.8 L722.5,407.5 L723.3,410.4 L724.2,414.0 L725.0,415.0 L726.0,402.5 L726.8,395.9 L727.5,389.5 L728.2,385.0 L729.0,379.0 L729.8,383.2 L730.5,387.5 L731.5,395.2 L732.5,402.5 L733.3,404.8 L734.2,408.7 L735.0,411.0 L736.0,404.1 L737.0,396.0 L738.0,403.5 L739.0,407.5 L740.0,405.9 L741.0,406.0 L741.8,407.8 L742.5,411.4 L743.2,410.8 L744.0,414.0 L744.9,415.4 L745.8,419.2 L746.6,421.3 L747.5,426.0 L748.3,426.8 L749.2,426.7 L750.0,425.0 L750.8,425.5 L751.7,426.1 L752.5,429.0 L753.3,423.4 L754.2,420.3 L755.0,417.5 L755.8,417.9 L756.7,421.5 L757.5,424.0 L758.3,426.7 L759.2,427.6 L760.0,431.0 L760.8,430.0 L761.6,433.4 L762.4,431.5 L763.2,432.9 L764.0,435.0 L765.0,432.1 L766.0,431.0 L766.8,428.8 L767.6,425.9 L768.4,425.6 L769.2,423.4 L770.0,422.5 L770.8,421.9 L771.5,419.5 L772.2,419.3 L773.0,416.0 L773.8,415.8 L774.5,415.3 L775.2,413.7 L776.0,412.5 L776.8,414.1 L777.5,417.6 L778.2,418.8 L779.0,420.0 L779.8,427.4 L780.5,432.5 L781.5,441.8 L782.5,450.0 L783.5,445.8 L784.5,440.0 L785.3,437.7 L786.2,438.6 L787.0,436.0 L788.0,433.0 L789.0,431.0 L790.0,427.7 L791.0,427.5 L791.8,422.3 L792.5,419.4 L793.2,416.4 L794.0,414.0 L795.0,417.2 L796.0,419.0 L796.8,417.1 L797.5,415.2 L798.2,417.1 L799.0,415.0 L799.9,416.5 L800.8,415.5 L801.6,416.9 L802.5,420.0 L803.4,418.7 L804.2,419.9 L805.1,422.3 L806.0,421.0 L806.8,421.3 L807.6,418.3 L808.4,415.1 L809.2,414.3 L810.0,413.0 L811.0,407.9 L812.0,404.0 L812.8,404.5 L813.7,404.3 L814.5,407.5 L815.3,407.0 L816.2,407.2 L817.0,405.0 L817.8,409.6 L818.7,410.6 L819.5,416.0 L820.2,415.9 L821.0,414.1 L821.8,416.1 L822.5,415.0 L823.4,413.8 L824.2,414.8 L825.1,413.2 L826.0,411.0 L826.8,406.6 L827.5,404.7 L828.2,404.5 L829.0,400.0 L830.0,396.1 L831.0,392.5 L831.8,389.1 L832.5,386.0 L833.2,384.2 L834.0,380.0 L835.0,379.3 L836.0,375.0 L837.0,380.1 L838.0,385.0 L839.0,378.7 L840.0,370.0 L841.0,362.7 L842.0,355.0 L843.0,348.3 L844.0,345.0 L845.0,325.0 L846.0,339.5 L847.0,352.5 L848.0,375.0 L849.0,363.5 L850.0,352.5 L851.0,340.1 L852.0,330.0 L853.0,326.0 L854.0,318.0 L855.0,342.5 L855.7,360.0 L857.0,330.0 L858.0,325.0 L858.8,333.8 L859.5,345.0 L860.2,350.2 L861.0,355.0 L862.0,347.5 L863.0,340.0 L863.8,344.1 L864.5,345.0 L865.2,356.0 L866.0,367.5 L867.0,363.1 L868.0,361.0 L868.8,362.1 L869.5,365.0 L870.5,380.0 L871.2,391.7 L872.0,405.0 L873.0,409.0 L874.0,412.5 L874.8,407.1 L875.5,402.5 L876.5,409.4 L877.5,415.0 L878.5,415.9 L879.5,419.0 L880.2,413.9 L881.0,410.0 L881.8,411.7 L882.5,417.5 L883.2,419.7 L884.0,421.0 L884.8,413.9 L885.5,405.0 L886.5,400.5 L887.5,395.0 L888.2,390.8 L889.0,387.5 L890.0,384.8 L891.0,385.0 L892.0,383.9 L893.0,380.0 L894.0,384.5 L895.0,389.0 L895.8,392.1 L896.7,397.6 L897.5,404.0 L898.5,393.5 L899.5,385.0 L900.2,379.3 L901.0,372.5 L901.8,371.7 L902.5,366.2 L903.2,366.2 L904.0,362.5 L904.8,367.1 L905.5,372.5 L906.2,369.5 L907.0,365.0 L908.0,373.4 L909.0,380.0 L910.0,384.5 L911.0,388.0 L912.0,396.0 L913.0,402.5 L914.0,401.2 L915.0,401.0 L916.0,398.4 L917.0,400.0 L918.0,405.0 L919.0,410.0 L920.0,412.4 L921.0,414.0 L921.8,415.2 L922.5,418.5 L923.2,420.7 L924.0,424.0 L925.0,415.8 L926.0,410.0 L926.8,411.5 L927.5,414.0 L928.2,416.6 L929.0,419.0 L930.0,415.9 L931.0,411.0 L931.8,411.3 L932.5,414.5 L933.2,414.6 L934.0,414.0 L935.0,411.8 L936.0,406.0 L936.8,409.1 L937.5,411.2 L938.2,412.9 L939.0,415.0 L940.0,418.3 L941.0,419.0 L941.8,419.9 L942.5,422.4 L943.2,424.3 L944.0,425.0 L945.0,430.1 L946.0,435.0 L946.8,433.1 L947.5,431.2 L948.2,430.3 L949.0,431.0 L950.0,436.1 L951.0,442.5 L952.0,446.6 L953.0,450.0 L953.8,450.5 L954.5,449.7 L955.2,447.3 L956.0,447.5 L956.8,448.4 L957.5,444.8 L958.2,445.8 L959.0,444.0 L959.9,441.7 L960.8,444.1 L961.6,443.2 L962.5,442.0 L963.3,444.9 L964.2,445.7 L965.0,445.0 L965.8,446.6 L966.6,448.0 L967.4,448.4 L968.2,448.7 L969.0,449.0 L969.9,448.0 L970.8,449.6 L971.6,451.4 L972.5,450.0 L973.4,448.7 L974.2,451.5 L975.1,449.4 L976.0,449.0 L976.8,448.0 L977.6,445.7 L978.4,446.7 L979.2,445.2 L980.0,446.0 L980.8,449.3 L981.7,453.0 L982.5,454.0 L983.4,455.2 L984.2,453.5 L985.1,452.0 L986.0,452.0 L986.8,450.1 L987.6,452.2 L988.4,451.3 L989.2,451.7 L990.0,450.5 L990.8,449.8 L991.7,451.8 L992.5,448.8 L993.3,449.0 L994.2,448.7 L995.0,449.5 L996.0,446.5 L997.0,442.5 L998.0,441.7 L999.0,437.5 L999.8,436.9 L1000.5,439.0 L1001.5,437.6 L1002.5,435.0 L1003.5,439.0" fill="none" stroke="#f09a2c" stroke-width="1.8" stroke-linejoin="round" stroke-linecap="round"/>
<g fill="#2fbf95" fill-opacity="0.19" stroke="#2aa884" stroke-width="0.9" stroke-dasharray="1 1.6"><rect x="73" y="145" width="58.0" height="249.8"/><rect x="245.6" y="238.7" width="81.8" height="156.1"/><rect x="540.6" y="281" width="82.4" height="113.8"/><rect x="831" y="317" width="82.0" height="77.8"/></g>
<g fill="#fb5c98" fill-opacity="0.28" stroke="#e23c7e" stroke-width="0.9" stroke-dasharray="1 1.6"><rect x="139.5" y="445.2" width="55.0" height="42.3"/><rect x="391" y="445.2" width="62.0" height="42.3"/><rect x="682.5" y="445.2" width="32.0" height="42.3"/><rect x="777" y="445.2" width="13.5" height="42.3"/><rect x="949.5" y="445.2" width="48.5" height="42.3"/></g>
<line x1="51" x2="51" y1="81" y2="487.5" stroke="#f2a040" stroke-width="1.6"/>
<line x1="1008.8" x2="1008.8" y1="81" y2="487.5" stroke="#2a2a2a" stroke-width="1.4"/>
<g font-size="8.2" fill="#7c7c7c" letter-spacing="0.55"><text x="1015.5" y="97.9">$100k</text><text x="1015.5" y="110.8">$60k</text><text x="1015.5" y="138.5">$20k</text><text x="1015.5" y="161.6">$8k</text><text x="1015.5" y="179.1">$4k</text><text x="1015.5" y="214.0">$1k</text><text x="1015.5" y="226.9">$600</text><text x="1015.5" y="254.6">$200</text><text x="1015.5" y="277.7">$80</text><text x="1015.5" y="295.2">$40</text><text x="1015.5" y="330.2">$10</text><text x="1015.5" y="343.1">$6</text><text x="1015.5" y="370.8">$2</text><text x="1015.5" y="393.9">$0.80</text><text x="1015.5" y="411.4">$0.40</text><text x="1015.5" y="446.3">$0.10</text><text x="1015.5" y="459.2">$0.06</text><text x="1015.5" y="486.9">$0.02</text><text x="44.9" y="182.1" text-anchor="end">7.2</text><text x="44.9" y="283.5" text-anchor="end">4.8</text><text x="44.9" y="385.0" text-anchor="end">2.4</text><text x="44.9" y="486.4" text-anchor="end">0</text></g>
<g font-size="9" fill="#6c6c6c" letter-spacing="0.6"><text x="90.0" y="502.3" text-anchor="middle">2011</text><text x="165.3" y="502.3" text-anchor="middle">2012</text><text x="240.7" y="502.3" text-anchor="middle">2013</text><text x="316.0" y="502.3" text-anchor="middle">2014</text><text x="391.3" y="502.3" text-anchor="middle">2015</text><text x="466.6" y="502.3" text-anchor="middle">2016</text><text x="542.0" y="502.3" text-anchor="middle">2017</text><text x="617.3" y="502.3" text-anchor="middle">2018</text><text x="692.6" y="502.3" text-anchor="middle">2019</text><text x="768.0" y="502.3" text-anchor="middle">2020</text><text x="843.3" y="502.3" text-anchor="middle">2021</text><text x="918.6" y="502.3" text-anchor="middle">2022</text><text x="994.0" y="502.3" text-anchor="middle">2023</text></g>
<g font-size="10.4" font-weight="700" fill="#1fb287" text-anchor="middle" letter-spacing="0.36">
<text x="866.3" y="281.2">Periods of Extreme</text><text x="866.3" y="294.2">Unrealized Profit</text>
<text x="866.8" y="307.4" font-weight="400" font-style="italic" font-size="10.4" letter-spacing="0.75">(MVRV &gt; 2.2)</text></g>
<g font-size="10.4" font-weight="700" fill="#e2176d" text-anchor="middle" letter-spacing="0.36">
<text x="557.3" y="458.5">Periods of Extreme</text><text x="557.3" y="471.8">Unrealized Loss</text>
<text x="558.2" y="484.6" font-weight="400" font-style="italic" font-size="10.4" letter-spacing="0.35">(MVRV &lt; 1.0)</text></g>
</svg>
<div class="foot">© 2023 Glassnode. All Rights Reserved.</div>
<div class="logo">glassnode</div>
</body></html>
